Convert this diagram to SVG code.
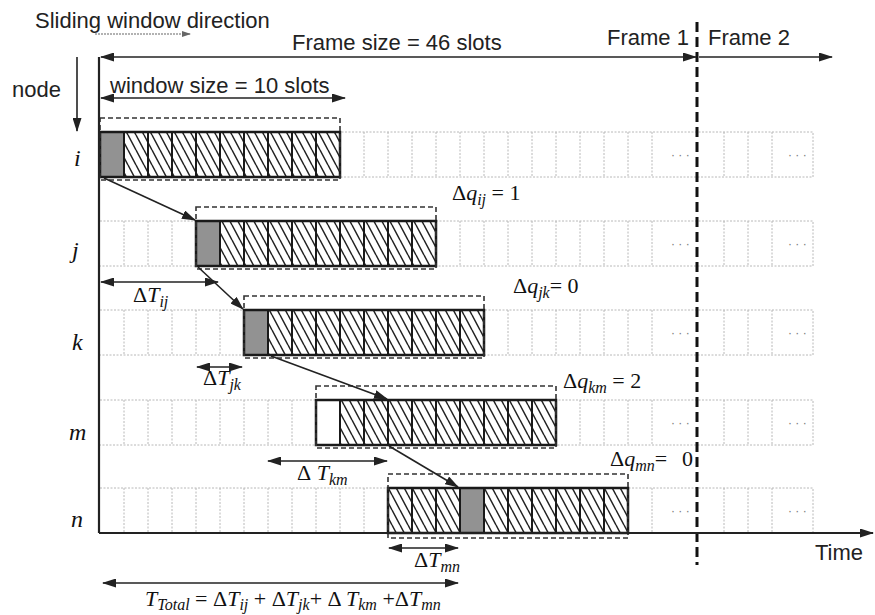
<svg xmlns="http://www.w3.org/2000/svg" xmlns:xlink="http://www.w3.org/1999/xlink" width="875" height="615" viewBox="0 0 875 615">
<style>
.t{font-family:"Liberation Sans",Arial,sans-serif;font-size:22px;fill:#222}
.s{font-family:"Liberation Serif","Times New Roman",serif;font-size:22px;fill:#111}
.it{font-style:italic}
.sub{font-size:16px;font-style:italic}
.lbl{font-family:"Liberation Serif","Times New Roman",serif;font-size:24px;font-style:italic;fill:#111}
.bg{fill:none;stroke:#b8b8b8;stroke-width:1;stroke-dasharray:2 1.5}
.dots{font-family:"Liberation Sans",Arial,sans-serif;font-size:12px;fill:#777}
.win{fill:none;stroke:#1a1a1a;stroke-width:2.5}
.sep{fill:none;stroke:#1a1a1a;stroke-width:2}
.gray{fill:#929292}
.white{fill:#fff}
.dbox{fill:none;stroke:#333;stroke-width:1.6;stroke-dasharray:5 3}
.ln{fill:none;stroke:#222;stroke-width:1.6}
.ax{fill:none;stroke:#222;stroke-width:2.2}
.frm{fill:none;stroke:#111;stroke-width:3;stroke-dasharray:10 5}
</style>
<defs>
<marker id="ah" viewBox="0 0 14 9" refX="13" refY="4.5" markerWidth="14" markerHeight="9" markerUnits="userSpaceOnUse" orient="auto-start-reverse"><path d="M0,0L14,4.5L0,9z" fill="#222"/></marker>
<marker id="ahs" viewBox="0 0 9 6" refX="8" refY="3" markerWidth="9" markerHeight="6" markerUnits="userSpaceOnUse" orient="auto"><path d="M0,0L9,3L0,6z" fill="#666"/></marker>
<pattern id="hatch" patternUnits="userSpaceOnUse" width="8" height="15"><rect width="8" height="15" fill="#fff"/><path d="M0,0L8,15M-8,0L0,15M8,0L16,15" stroke="#222" stroke-width="1.5"/></pattern>
<g id="bgrow">
<path class="bg" d="M100,0H813V45H100M124,0v45M148,0v45M172,0v45M196,0v45M220,0v45M244,0v45M268,0v45M292,0v45M316,0v45M340,0v45M364,0v45M388,0v45M412,0v45M436,0v45M460,0v45M484,0v45M508,0v45M532,0v45M556,0v45M580,0v45M604,0v45M628,0v45M652,0v45M724,0v45M748,0v45M772,0v45"/>
<text class="dots" x="671" y="27">· · ·</text>
<text class="dots" x="788" y="27">· · ·</text>
</g>
<g id="winframe">
<path class="sep" d="M24,0v45M48,0v45M72,0v45M96,0v45M120,0v45M144,0v45M168,0v45M192,0v45M216,0v45"/>
<rect class="win" width="240" height="45"/>
</g>
</defs>
<rect width="875" height="615" fill="#fff"/>

<g id="node-i">
<use xlink:href="#bgrow" y="132"/>
<rect x="100" y="132" width="240" height="45" fill="url(#hatch)"/>
<rect class="gray" x="100" y="132" width="24" height="45"/>
<use xlink:href="#winframe" x="100" y="132"/>
<rect class="dbox" x="100" y="118" width="240" height="62"/>
<text class="lbl" x="74" y="166">i</text>
</g>

<g id="node-j">
<use xlink:href="#bgrow" y="221"/>
<rect x="196" y="221" width="240" height="45" fill="url(#hatch)"/>
<rect class="gray" x="196" y="221" width="24" height="45"/>
<use xlink:href="#winframe" x="196" y="221"/>
<rect class="dbox" x="196" y="207" width="240" height="62"/>
<text class="lbl" x="72" y="258">j</text>
</g>

<g id="node-k">
<use xlink:href="#bgrow" y="310"/>
<rect x="244" y="310" width="240" height="45" fill="url(#hatch)"/>
<rect class="gray" x="244" y="310" width="24" height="45"/>
<use xlink:href="#winframe" x="244" y="310"/>
<rect class="dbox" x="244" y="296" width="240" height="62"/>
<text class="lbl" x="72" y="350">k</text>
</g>

<g id="node-m">
<use xlink:href="#bgrow" y="400"/>
<rect x="316" y="400" width="240" height="45" fill="url(#hatch)"/>
<rect class="white" x="316" y="400" width="24" height="45"/>
<use xlink:href="#winframe" x="316" y="400"/>
<path class="sep" d="M388,400v45" stroke-width="3"/>
<rect class="dbox" x="316" y="386" width="240" height="62"/>
<text class="lbl" x="69" y="440">m</text>
</g>

<g id="node-n">
<use xlink:href="#bgrow" y="488"/>
<rect x="388" y="488" width="240" height="45" fill="url(#hatch)"/>
<rect class="gray" x="460" y="488" width="24" height="45"/>
<use xlink:href="#winframe" x="388" y="488"/>
<rect class="dbox" x="388" y="474" width="240" height="64"/>
<text class="lbl" x="71" y="527">n</text>
</g>

<g id="connectors">
<line class="frm" x1="697" y1="22" x2="697" y2="565"/>
<line class="ax" x1="99" y1="57" x2="99" y2="533"/>
<line class="ax" x1="99" y1="533" x2="873" y2="533" marker-end="url(#ah)"/>
<line class="ln" x1="101" y1="57" x2="696" y2="57" marker-start="url(#ah)" marker-end="url(#ah)"/>
<line class="ln" x1="699" y1="57" x2="832" y2="57" marker-end="url(#ah)"/>
<line class="ln" x1="101" y1="98" x2="345" y2="98" marker-start="url(#ah)" marker-end="url(#ah)"/>
<line class="ln" x1="77" y1="57" x2="77" y2="131" marker-end="url(#ah)"/>
<line x1="95" y1="34" x2="190" y2="34" stroke="#666" stroke-width="1.2" stroke-dasharray="2 1" marker-end="url(#ahs)"/>
<line class="ln" x1="104" y1="178" x2="195" y2="220" marker-end="url(#ah)"/>
<line class="ln" x1="198" y1="267" x2="243" y2="309" marker-end="url(#ah)"/>
<line class="ln" x1="271" y1="356" x2="387" y2="399" marker-end="url(#ah)"/>
<line class="ln" x1="389" y1="446" x2="458" y2="487" marker-end="url(#ah)"/>
<line class="ln" x1="101" y1="282" x2="218" y2="282" marker-start="url(#ah)" marker-end="url(#ah)"/>
<line class="ln" x1="197" y1="367" x2="242" y2="367" marker-start="url(#ah)" marker-end="url(#ah)"/>
<line class="ln" x1="268" y1="461" x2="387" y2="461" marker-start="url(#ah)" marker-end="url(#ah)"/>
<line class="ln" x1="389" y1="548" x2="458" y2="548" marker-start="url(#ah)" marker-end="url(#ah)"/>
<line class="ln" x1="103" y1="583" x2="458" y2="583" marker-start="url(#ah)" marker-end="url(#ah)"/>
</g>

<g id="labels">
<text class="t" x="35" y="28">Sliding window direction</text>
<text class="t" x="292" y="50">Frame size = 46 slots</text>
<text class="t" x="607" y="45">Frame 1</text>
<text class="t" x="708" y="45">Frame 2</text>
<text class="t" x="12" y="97">node</text>
<text class="t" x="110" y="93">window size = 10 slots</text>
<text class="t" x="815" y="560">Time</text>
<text class="s" x="452" y="200">Δ<tspan class="it">q</tspan><tspan class="sub" dy="5">ij</tspan><tspan dy="-5"> =  1</tspan></text>
<text class="s" x="513" y="293">Δ<tspan class="it">q</tspan><tspan class="sub" dy="5">jk</tspan><tspan dy="-5">= 0</tspan></text>
<text class="s" x="563" y="388">Δ<tspan class="it">q</tspan><tspan class="sub" dy="5">km</tspan><tspan dy="-5">  =  2</tspan></text>
<text class="s" x="610" y="466">Δ<tspan class="it">q</tspan><tspan class="sub" dy="5">mn</tspan><tspan dy="-5">=</tspan><tspan x="682">0</tspan></text>
<text class="s" x="133" y="302">Δ<tspan class="it">T</tspan><tspan class="sub" dy="5">ij</tspan></text>
<text class="s" x="203" y="385">Δ<tspan class="it">T</tspan><tspan class="sub" dy="5">jk</tspan></text>
<text class="s" x="297" y="480">Δ<tspan class="it"> T</tspan><tspan class="sub" dy="5">km</tspan></text>
<text class="s" x="414" y="567">Δ<tspan class="it">T</tspan><tspan class="sub" dy="5">mn</tspan></text>
<text class="s" x="145" y="606"><tspan class="it">T</tspan><tspan class="sub" dy="4">Total</tspan><tspan dy="-4"> = Δ</tspan><tspan class="it">T</tspan><tspan class="sub" dy="4">ij</tspan><tspan dy="-4"> + Δ</tspan><tspan class="it">T</tspan><tspan class="sub" dy="4">jk</tspan><tspan dy="-4">+ Δ </tspan><tspan class="it">T</tspan><tspan class="sub" dy="4">km</tspan><tspan dy="-4"> +Δ</tspan><tspan class="it">T</tspan><tspan class="sub" dy="4">mn</tspan></text>
</g>
</svg>
